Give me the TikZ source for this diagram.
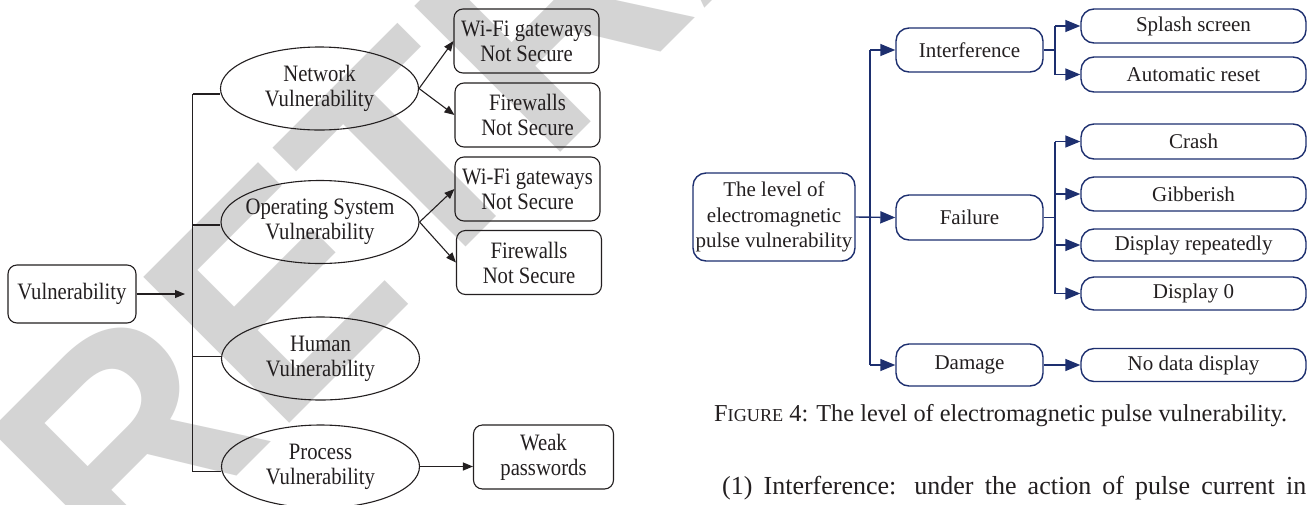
\documentclass[tikz,border=0pt]{standalone}
\usepackage{fontspec}
\setmainfont{Liberation Serif}
\newfontfamily\condfont{Liberation Serif}[FakeStretch=0.88]
\newfontfamily\wmfont{Liberation Sans}
\usetikzlibrary{arrows.meta,shapes.geometric,calc}
\definecolor{navy}{HTML}{1D2F6F}
\definecolor{wmgray}{HTML}{D4D4D4}
\definecolor{ink}{HTML}{231F20}
\tikzset{
  wmark/.style={font=\wmfont\bfseries\fontsize{300}{300}\selectfont, text=wmgray, inner sep=0pt},
  lbox/.style={draw=ink, line width=1.1pt, rounded corners=9pt, align=center, inner sep=0pt,
    text=ink, font=\condfont\fontsize{23.5}{25}\selectfont},
  lell/.style={draw=ink, ellipse, line width=1.1pt, minimum width=198pt, minimum height=83pt,
    inner xsep=-14pt, inner ysep=-10pt, align=center, text=ink, font=\condfont\fontsize{23.5}{25}\selectfont},
  lline/.style={draw=ink, line width=1.1pt},
  larr/.style={lline, -{Triangle[length=10pt,width=8pt]}},
  rbox/.style={draw=navy, line width=1.4pt, rounded corners=13pt, align=center, inner sep=0pt,
    text=ink, font=\fontsize{21}{25.5}\selectfont},
  leaf/.style={rbox, minimum width=225pt},
  mid/.style={rbox, minimum width=147pt},
  rline/.style={draw=navy, line width=1.4pt},
  rarr/.style={rline, -{Triangle[length=15pt,width=12pt]}},
}
\begin{document}
\begin{tikzpicture}[x=1pt,y=-1pt]
\useasboundingbox (0,0) rectangle (1309,504);
\fill[white] (0,0) rectangle (1309,504);
% watermark
\node[wmark, rotate=45, anchor=base west] (wm) at (122,591) {RETRACTED};

% ---------- left diagram ----------
\node[lbox, minimum width=128pt, minimum height=58pt] (vul) at (72,294) {Vulnerability};
\node[lell] (net) at (319.5,88.5) {Network\\Vulnerability};
\node[lell] (os) at (320,222) {Operating System\\Vulnerability};
\node[lell] (hum) at (320.5,358.5) {Human\\Vulnerability};
\node[lell] (proc) at (320.5,466.5) {Process\\Vulnerability};
\node[lbox, minimum width=145pt, minimum height=64pt] (wf1) at (526.5,41) {Wi-Fi gateways\\Not Secure};
\node[lbox, minimum width=145pt, minimum height=64pt] (fw1) at (527.5,115) {Firewalls\\Not Secure};
\node[lbox, minimum width=145pt, minimum height=64pt] (wf2) at (527.5,189) {Wi-Fi gateways\\Not Secure};
\node[lbox, minimum width=145pt, minimum height=64pt] (fw2) at (529,262.5) {Firewalls\\Not Secure};
\node[lbox, minimum width=140pt, minimum height=64pt] (weak) at (543.5,457) {Weak\\passwords};

\coordinate (t1) at (192.7,94);
\coordinate (t2) at (192.7,225);
\coordinate (t3) at (192.7,356.7);
\coordinate (t4) at (192.7,471.7);
\coordinate (va) at (185,294);
\draw[lline] (t1) -- (t4);
\draw[lline] (t1) -- (t1 -| net.west);
\draw[lline] (t2) -- (t2 -| os.west);
\draw[lline] (t3) -- (t3 -| hum.west);
\draw[lline] (t4) -- (t4 -| proc.west);
\draw[larr] (vul.east) -- (va);
\draw[larr] (net.east) -- (wf1.west);
\draw[larr] (net.east) -- (fw1.west);
\draw[larr] (os.east) -- (wf2.west);
\draw[larr] (os.east) -- (fw2.west);
\draw[larr] (proc.east) -- (proc.east -| weak.west);

% ---------- right diagram ----------
\node[rbox, minimum width=162pt, minimum height=88pt] (root) at (774,217) {The level of\\electromagnetic\\pulse vulnerability};
\node[mid, minimum height=44pt] (intf) at (969.5,50) {Interference};
\node[mid, minimum height=45pt] (fail) at (969.5,217.5) {Failure};
\node[mid, minimum height=42pt] (dmg) at (969.5,365) {Damage};
\node[leaf, minimum height=34pt] (splash) at (1193.5,26) {Splash screen};
\node[leaf, minimum height=35pt] (auto) at (1193.5,74.5) {Automatic reset};
\node[leaf, minimum height=35pt] (crash) at (1193.5,141.5) {Crash};
\node[leaf, minimum height=34pt] (gib) at (1193.5,194) {Gibberish};
\node[leaf, minimum height=32pt] (disp) at (1193.5,245) {Display repeatedly};
\node[leaf, minimum height=33pt] (d0) at (1193.5,293.5) {Display 0};
\node[leaf, minimum height=33pt] (nodata) at (1193.5,365) {No data display};

\coordinate (rx) at (870,0);
\coordinate (cx) at (1055,0);
\draw[rline] (rx |- intf.west) -- (rx |- dmg.west);
\draw[rarr] (rx |- intf.west) -- (intf.west);
\draw[rarr] (rx |- dmg.west) -- (dmg.west);
\draw[rarr] (root.east) -- (fail.west);

\draw[rline] (intf.east) -- (cx |- intf.east);
\draw[rline] (cx |- splash.west) -- (cx |- auto.west);
\draw[rarr] (cx |- splash.west) -- (splash.west);
\draw[rarr] (cx |- auto.west) -- (auto.west);

\draw[rline] (fail.east) -- (cx |- fail.east);
\draw[rline] (cx |- crash.west) -- (cx |- d0.west);
\draw[rarr] (cx |- crash.west) -- (crash.west);
\draw[rarr] (cx |- gib.west) -- (gib.west);
\draw[rarr] (cx |- disp.west) -- (disp.west);
\draw[rarr] (cx |- d0.west) -- (d0.west);

\draw[rarr] (dmg.east) -- (nodata.west);

% caption and body text
\node[anchor=base west, inner sep=0pt, text=ink, font=\fontsize{24.3}{28}\selectfont] (cap) at (714,421.7)
  {F{\fontsize{18.2}{20}\selectfont IGURE} 4: The level of electromagnetic pulse vulnerability.};
\node[anchor=base west, inner sep=0pt, text=ink, font=\fontsize{26}{30}\selectfont] (body) at (722,494)
  {\makebox[584pt][s]{(1) Interference: under the action of pulse current in}};
\end{tikzpicture}
\end{document}
